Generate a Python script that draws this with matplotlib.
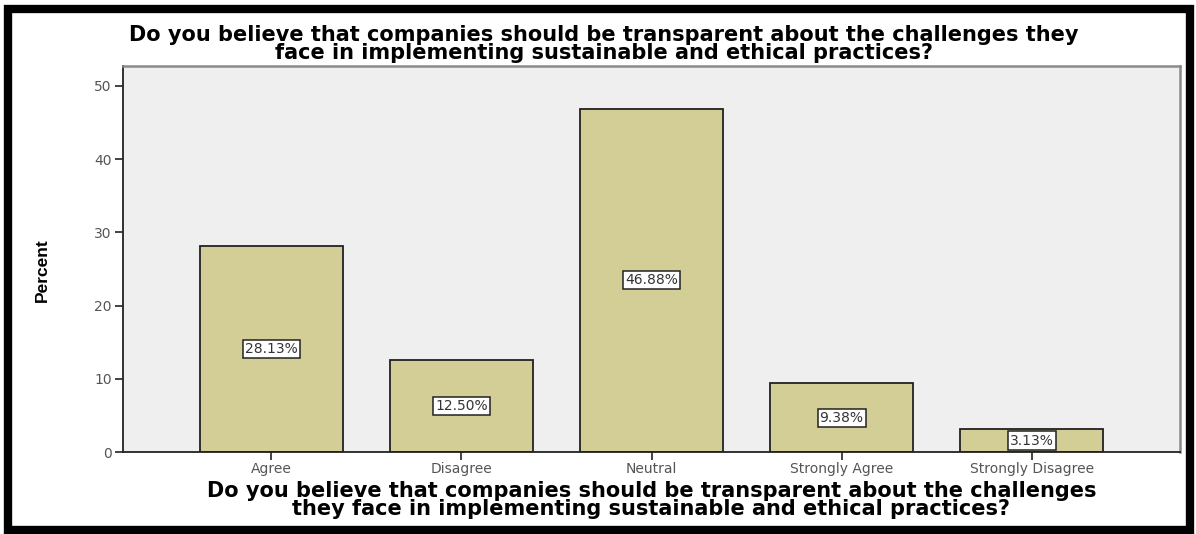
import matplotlib
matplotlib.use("Agg")
import matplotlib.pyplot as plt
from matplotlib.patches import Rectangle

plt.rcParams["font.family"] = ["DejaVu Sans"]

# Respuestas de la encuesta (porcentajes)
categories = ["Agree", "Disagree", "Neutral", "Strongly Agree", "Strongly Disagree"]
percent = [28.13, 12.50, 46.88, 9.38, 3.13]
yticks = [0, 10, 20, 30, 40, 50]
question = ("Do you believe that companies should be transparent about the challenges they\n"
            "face in implementing sustainable and ethical practices?")
question_x = ("Do you believe that companies should be transparent about the challenges\n"
              "they face in implementing sustainable and ethical practices?")

BAR_COLOR = "#D3CD96"
BG_COLOR = "#EFEFEF"
W, H = 1196, 534

fig = plt.figure(figsize=(W / 100, H / 100), dpi=100, facecolor="white")
ax = fig.add_axes([123 / W, 1 - 452 / H, (1180 - 123) / W, (452 - 66) / H])
ax.set_facecolor(BG_COLOR)

x = range(len(categories))
ax.bar(x, percent, width=0.75, color=BAR_COLOR, edgecolor="#222222", linewidth=1.3, zorder=2)

# Etiquetas de valor en el centro de cada barra
for xi, v in zip(x, percent):
    ax.text(xi, v / 2, f"{v:.2f}%", ha="center", va="center", fontsize=10, color="#333333",
            bbox=dict(boxstyle="square,pad=0.15", facecolor="white", edgecolor="#222222", linewidth=1.1),
            zorder=3)

ax.set_xlim(-0.78, 4.78)
ax.set_ylim(0, 52.7)
ax.set_yticks(yticks)
ax.set_xticks(list(x))
ax.set_xticklabels(categories)
ax.tick_params(axis="both", colors="#222222", labelcolor="#555555", labelsize=10, length=6, width=1.2)
ax.tick_params(axis="y", pad=2)
ax.tick_params(axis="x", pad=1)

for side in ["left", "bottom"]:
    ax.spines[side].set_color("#222222")
    ax.spines[side].set_linewidth(1.3)
for side in ["top", "right"]:
    ax.spines[side].set_color("#8a8a8a")
    ax.spines[side].set_linewidth(1.8)

ax.set_ylabel("Percent", fontsize=12.5, fontweight="bold", family=["Liberation Sans", "DejaVu Sans"])
ax.yaxis.set_label_coords((50 - 123) / (1180 - 123), 0.47)

ax.set_xlabel(question_x, fontsize=15, fontweight="bold", linespacing=0.85, labelpad=4)

fig.text(604 / W, 1 - 44 / H, question, ha="center", va="center", fontsize=15,
         fontweight="bold", linespacing=0.85)

# Marco negro exterior
fig.patches.append(Rectangle((8 / W, 4 / H), 1182 / W, 521 / H, transform=fig.transFigure,
                             fill=False, edgecolor="black", linewidth=6, zorder=10))

fig.savefig("out.png", dpi=100, facecolor="white")
